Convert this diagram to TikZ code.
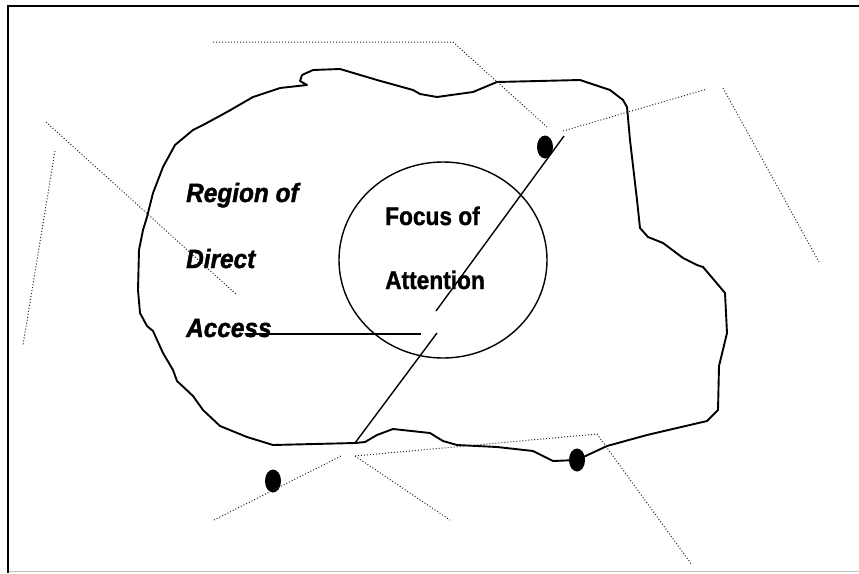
\documentclass[tikz,border=0pt]{standalone}
\usepackage{fontspec}
\setmainfont{Liberation Sans}
\newfontfamily\narrowsans[FakeStretch=0.92, FakeBold=1.5]{Liberation Sans}
\newfontfamily\narrowersans[FakeStretch=0.89, FakeBold=1.2]{Liberation Sans}
\usetikzlibrary{shapes.geometric}
\tikzset{
  blobline/.style={line width=1.9pt, line join=round, line cap=round},
  thinline/.style={line width=1.4pt},
  dotline/.style={line width=1pt, dash pattern=on 1pt off 2pt, black!85},
  blackdot/.style={fill=black, ellipse, minimum width=16pt, minimum height=23pt, inner sep=0pt, outer sep=0pt},
  regiontext/.style={anchor=base west, inner sep=0pt, font=\narrowsans\fontsize{26.5}{30}\selectfont\bfseries\itshape},
  focustext/.style={anchor=base west, inner sep=0pt, font=\narrowersans\fontsize{25.5}{30}\selectfont\bfseries},
}
\begin{document}
\begin{tikzpicture}[x=1pt, y=-1pt]
\useasboundingbox (0,0) rectangle (859,573);
% frame
\draw[line width=2.4pt] (859,6) -- (8,6) -- (8,573);
\draw[line width=1.5pt, black!25] (9,571.5) -- (859,571.5);

% blob (region of direct access)
\draw[blobline] (273,445) -- (247,437) -- (220,426) -- (203,410) -- (193,396) -- (177,381) -- (173,370)
  -- (163,353) -- (153,331) -- (147,326) -- (140,313) -- (138,290) -- (139,250) -- (143,230) -- (147,217)
  -- (153,193) -- (163,167) -- (175,145) -- (193,130) -- (203,125) -- (227,112) -- (253,97) -- (280,88)
  -- (307,85) -- (300,81) -- (302,75) -- (313,70) -- (340,69) -- (377,80) -- (413,90) -- (420,94)
  -- (437,97) -- (473,92) -- (497,82) -- (580,80) -- (610,90) -- (623,100) -- (627,107) -- (630,140)
  -- (637,200) -- (640,228) -- (648,237) -- (663,243) -- (683,258) -- (697,265) -- (703,267) -- (720,287)
  -- (725,293) -- (727,333) -- (719,366) -- (718,410) -- (707,421) -- (647,435) -- (607,446) -- (577,460)
  -- (553,461) -- (533,451) -- (497,447) -- (457,445) -- (443,441) -- (430,433) -- (393,429) -- (377,435)
  -- (365,442) -- (355,443) -- cycle;

% focus of attention circle
\node[draw, ellipse, thinline, minimum width=208pt, minimum height=196pt, inner sep=0pt] (focus) at (443,260) {};

% texts
\node[regiontext] (reg1) at (186,202) {Region of};
\node[regiontext] (reg2) at (186,268) {Direct};
\node[regiontext] (reg3) at (186,337) {Access};
\node[focustext] (foc1) at (385,225) {Focus of};
\node[focustext] (foc2) at (385,289) {Attention};

% solid connectors
\coordinate (accstart) at (248,334);
\coordinate (accend) at (421,334);
\draw[thinline] (accstart) -- (accend);
\coordinate (diagtop) at (564,136);
\coordinate (diagmid1) at (436,311);
\coordinate (diagmid2) at (437,333);
\coordinate (diagbot) at (355,443);
\draw[thinline] (diagtop) -- (diagmid1);
\draw[thinline] (diagmid2) -- (diagbot);

% black dots
\node[blackdot] (dotA) at (545,147) {};
\node[blackdot] (dotB) at (273,481) {};
\node[blackdot] (dotC) at (577,460) {};

% dotted lines
\coordinate (d1a) at (213,42);
\coordinate (d1b) at (453,42);
\coordinate (d1c) at (547,127);
\draw[dotline] (d1a) -- (d1b) -- (d1c);
\coordinate (d2a) at (563,131);
\coordinate (d2b) at (707,89);
\draw[dotline] (d2a) -- (d2b);
\coordinate (d3a) at (723,88);
\coordinate (d3b) at (819,262);
\draw[dotline] (d3a) -- (d3b);
\coordinate (d4a) at (46,122);
\coordinate (d4b) at (237,295);
\draw[dotline] (d4a) -- (d4b);
\coordinate (d5a) at (55,151);
\coordinate (d5b) at (23,345);
\draw[dotline] (d5a) -- (d5b);
\coordinate (d6a) at (214,520);
\coordinate (d6b) at (341,456);
\draw[dotline] (d6a) -- (d6b);
\coordinate (d7a) at (355,456);
\coordinate (d7b) at (597,434);
\coordinate (d7c) at (692,565);
\draw[dotline] (d7a) -- (d7b) -- (d7c);
\coordinate (d8b) at (450,520);
\draw[dotline] (d7a) -- (d8b);
\end{tikzpicture}
\end{document}
